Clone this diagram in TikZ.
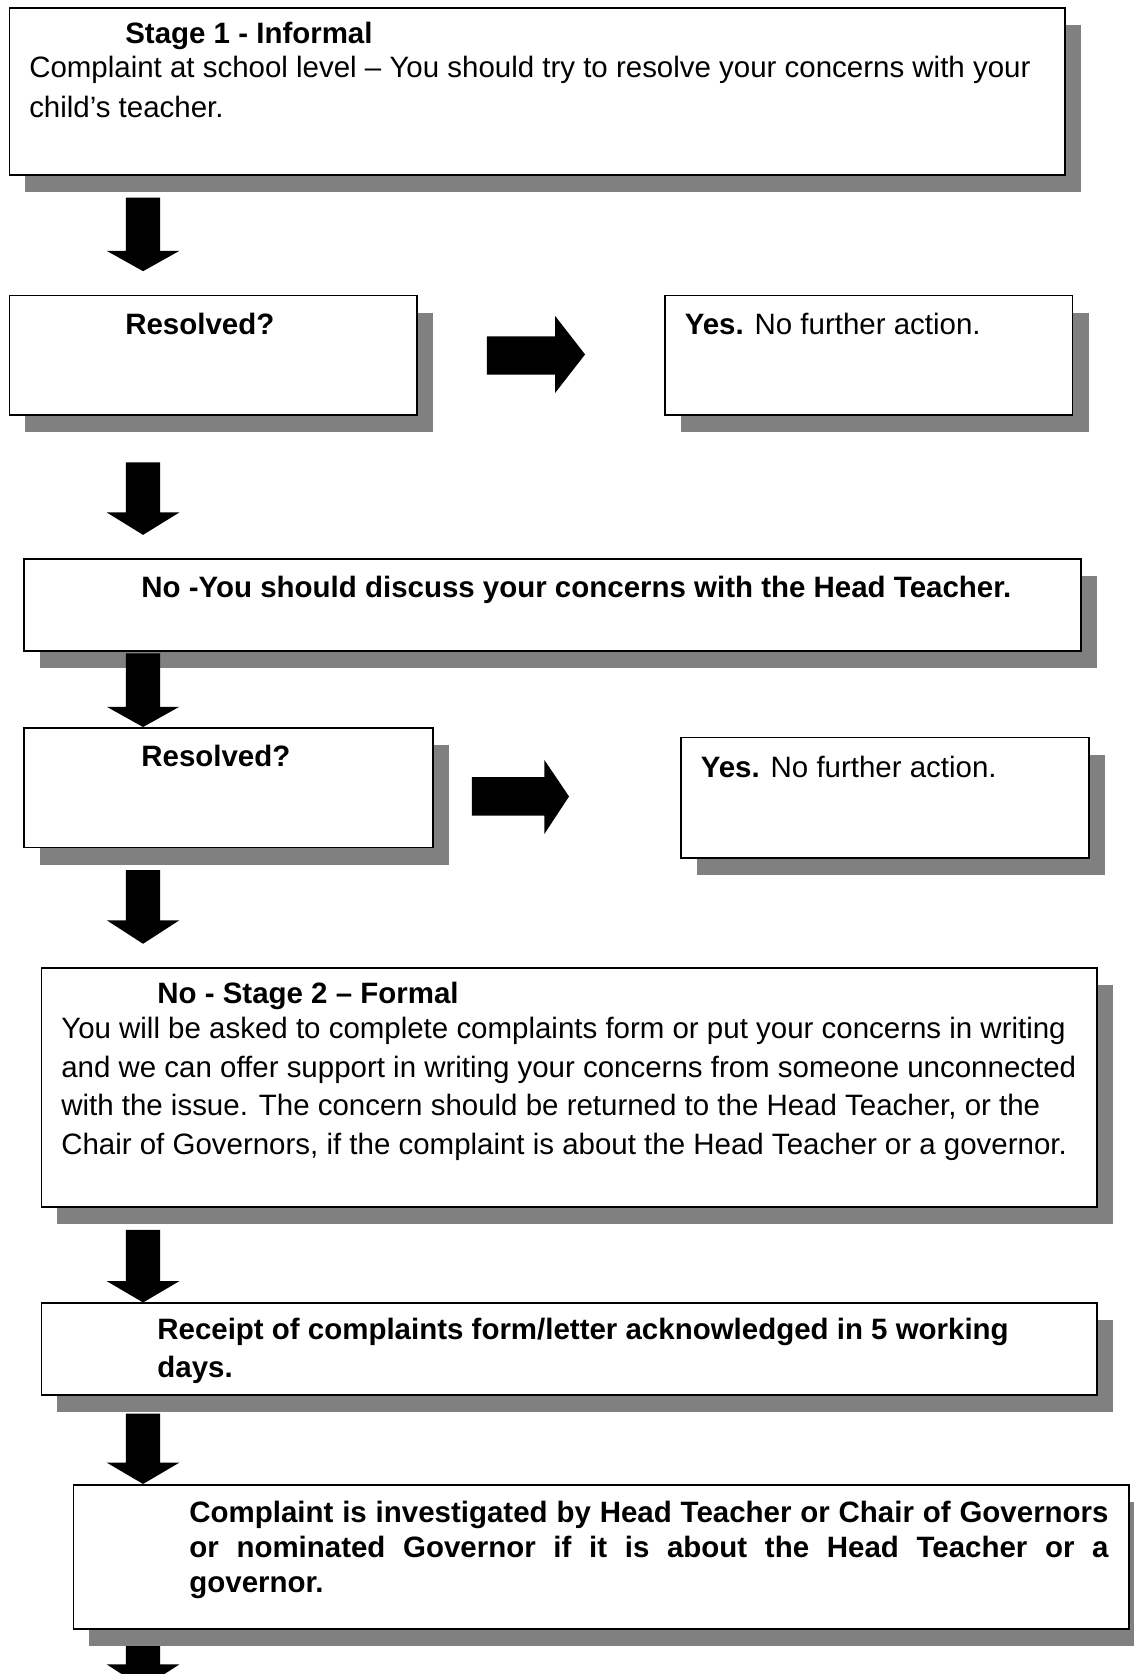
\documentclass[tikz,border=0pt]{standalone}
\usepackage{fontspec}
\setmainfont{Liberation Sans}
\usetikzlibrary{shadows}
\definecolor{shadowgray}{HTML}{808080}
\tikzset{
  box/.style={draw=black, line width=0.75pt, fill=white, rectangle, inner sep=0pt, anchor=north west,
    drop shadow={shadow xshift=7.5pt, shadow yshift=-8pt, fill=shadowgray, opacity=1}},
  txt/.style={anchor=base west, inner sep=0pt, font=\fontsize{13.8}{18}\selectfont, align=left},
  blockarrow/.style={fill=black, draw=none}
}
\newcommand{\dnarrow}[3]{%
  \fill[blockarrow] (118,#1) -- (150,#1) -- (150,#2) -- (168,#2) -- (134,#3) -- (100,#2) -- (118,#2) -- cycle;}
\begin{document}
\begin{tikzpicture}[x=0.5pt,y=-0.5pt]
\useasboundingbox (0,0) rectangle (1062,1568);
% last arrow lies behind the last box
\dnarrow{1527}{1559}{1581}
% boxes
\node[box, minimum width=494.5pt, minimum height=78pt] (b1) at (8,7) {};
\node[box, minimum width=191pt, minimum height=56pt] (r1) at (8,276) {};
\node[box, minimum width=191pt, minimum height=56pt] (y1) at (622,276) {};
\node[box, minimum width=495pt, minimum height=43pt] (n1) at (22,523) {};
\node[box, minimum width=191.5pt, minimum height=56pt] (r2) at (22,681) {};
\node[box, minimum width=191pt, minimum height=56.5pt] (y2) at (637,690) {};
\node[box, minimum width=494.5pt, minimum height=112pt] (s2) at (38,906) {};
\node[box, minimum width=494.5pt, minimum height=43pt] (rc) at (38,1220) {};
\node[box, minimum width=494.5pt, minimum height=67.5pt] (inv) at (68,1390) {};
% arrows
\dnarrow{185}{235}{254}
\dnarrow{433}{480}{501}
\dnarrow{612}{662}{681}
\dnarrow{815}{862}{884}
\dnarrow{1152}{1200}{1220}
\dnarrow{1324}{1370}{1390}
\fill[blockarrow] (456,315) -- (520,315) -- (520,296) -- (548,332) -- (520,368) -- (520,351) -- (456,351) -- cycle;
\fill[blockarrow] (442,728) -- (510,728) -- (510,712) -- (533,746) -- (510,781) -- (510,764) -- (442,764) -- cycle;
% texts (multi-line nodes are placed by the baseline of their last line)
\node[txt] (t1a) at (117,41) {\bfseries Stage 1 - Informal};
\node[txt, font=\fontsize{13.8}{18.5}\selectfont] (t1b) at (27,110) {Complaint at school level – You should try to resolve your concerns with your\\ child’s teacher.};
\node[txt] (tr1) at (117,313) {\bfseries Resolved?};
\node[txt] (ty1) at (641,313) {\textbf{Yes.} No further action.};
\node[txt] (tn1) at (132,560) {\bfseries No -You should discuss your concerns with the Head Teacher.};
\node[txt] (tr2) at (132,718) {\bfseries Resolved?};
\node[txt] (ty2) at (656,728) {\textbf{Yes.} No further action.};
\node[txt] (ts2a) at (147,940) {\bfseries No - Stage 2 – Formal};
\node[txt] (ts2b) at (57,1081) {You will be asked to complete complaints form or put your concerns in writing\\
and we can offer support in writing your concerns from someone unconnected\\
with the issue. The concern should be returned to the Head Teacher, or the\\
Chair of Governors, if the complaint is about the Head Teacher or a governor.};
\node[txt, font=\fontsize{13.8}{17.5}\selectfont\bfseries] (trc) at (147,1290) {Receipt of complaints form/letter acknowledged in 5 working\\ days.};
\node[txt, font=\fontsize{13.8}{16.5}\selectfont\bfseries] (tinv) at (177,1492) {\makebox[430.5pt][s]{Complaint is investigated by Head Teacher or Chair of Governors}\\
\makebox[430.5pt][s]{or nominated Governor if it is about the Head Teacher or a}\\
governor.};
\end{tikzpicture}
\end{document}
